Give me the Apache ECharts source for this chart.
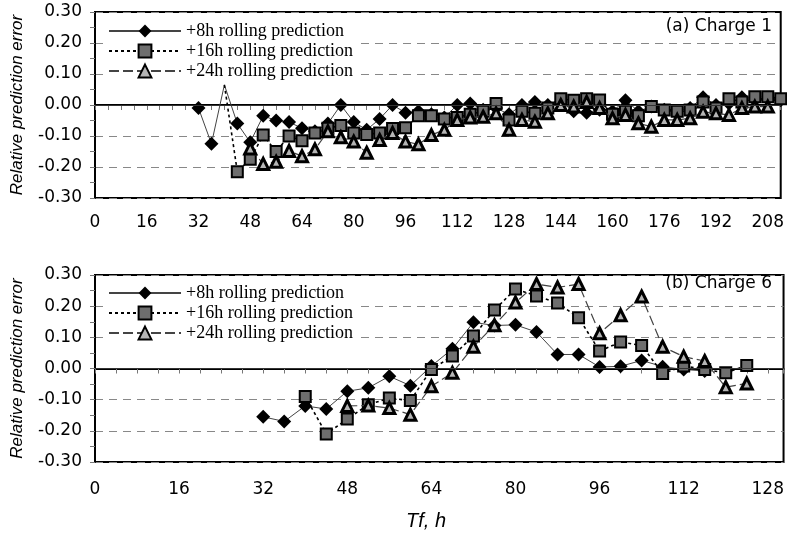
<!DOCTYPE html>
<html><head><meta charset="utf-8">
<script src="https://cdn.jsdelivr.net/npm/echarts@6/dist/echarts.min.js"></script>
<style>html,body{margin:0;padding:0;background:#fff}#c{width:787px;height:535px}</style>
</head><body><div id="c"></div>
<script>
const seriesNames = ['+8h rolling prediction', '+16h rolling prediction', '+24h rolling prediction'];
const panelLabels = ['(a) Charge 1', '(b) Charge 6'];
const xAxisTitle = 'Tf, h';
const yAxisTitle = 'Relative prediction error';
const topXMax = 212;
const bottomXMax = 131;
const xLabelStep = 16;
const yTicks = [-0.3, -0.2, -0.1, 0, 0.1, 0.2, 0.3];
const zeroLevel = 0;
const hiddenMarkerX = [40];

// Panel (a) Charge 1
const c1_8h_x = [32,36,40,44,48,52,56,60,64,68,72,76,80,84,88,92,96,100,104,108,112,116,120,124,128,132,136,140,144,148,152,156,160,164,168,172,176,180,184,188,192,196,200,204,208,212];
const c1_8h_y = [-0.01,-0.125,0.065,-0.06,-0.12,-0.035,-0.05,-0.055,-0.075,-0.085,-0.06,0.0,-0.055,-0.08,-0.045,0.0,-0.025,-0.02,-0.03,-0.04,0.0,0.005,-0.015,-0.01,-0.03,0.0,0.01,0.0,0.01,-0.02,-0.025,-0.015,-0.02,0.015,-0.02,-0.005,-0.015,-0.02,-0.01,0.025,0.0,0.005,0.025,0.015,0.02,0.015];
const c1_16h_x = [40,44,48,52,56,60,64,68,72,76,80,84,88,92,96,100,104,108,112,116,120,124,128,132,136,140,144,148,152,156,160,164,168,172,176,180,184,188,192,196,200,204,208,212];
const c1_16h_y = [0.065,-0.215,-0.175,-0.097,-0.15,-0.1,-0.115,-0.09,-0.075,-0.066,-0.09,-0.095,-0.09,-0.076,-0.073,-0.035,-0.035,-0.045,-0.04,-0.03,-0.02,0.005,-0.048,-0.02,-0.027,-0.01,0.02,0.015,0.02,0.016,-0.03,-0.02,-0.035,-0.005,-0.016,-0.02,-0.016,0.01,-0.01,0.02,0.01,0.027,0.027,0.02];
const c1_24h_x = [48,52,56,60,64,68,72,76,80,84,88,92,96,100,104,108,112,116,120,124,128,132,136,140,144,148,152,156,160,164,168,172,176,180,184,188,192,196,200,204,208];
const c1_24h_y = [-0.14,-0.19,-0.183,-0.148,-0.165,-0.143,-0.085,-0.104,-0.118,-0.154,-0.113,-0.09,-0.118,-0.127,-0.097,-0.08,-0.048,-0.04,-0.038,-0.027,-0.08,-0.048,-0.054,-0.027,0.0,-0.005,0.01,-0.01,-0.043,-0.032,-0.059,-0.07,-0.048,-0.048,-0.043,-0.022,-0.027,-0.032,-0.01,-0.005,-0.005];

// Panel (b) Charge 6
const c6_8h_x = [32,36,40,44,48,52,56,60,64,68,72,76,80,84,88,92,96,100,104,108,112,116];
const c6_8h_y = [-0.155,-0.17,-0.12,-0.13,-0.073,-0.062,-0.025,-0.055,0.008,0.063,0.148,0.138,0.14,0.117,0.045,0.045,0.005,0.007,0.026,0.006,-0.003,-0.008];
const c6_16h_x = [40,44,48,52,56,60,64,68,72,76,80,84,88,92,96,100,104,108,112,116,120,124];
const c6_16h_y = [-0.09,-0.21,-0.162,-0.116,-0.095,-0.103,-0.003,0.04,0.104,0.188,0.255,0.233,0.21,0.163,0.056,0.085,0.074,-0.016,0.008,-0.003,-0.014,0.01];
const c6_24h_x = [48,52,56,60,64,68,72,76,80,84,88,92,96,100,104,108,112,116,120,124];
const c6_24h_y = [-0.12,-0.119,-0.127,-0.148,-0.057,-0.014,0.07,0.139,0.212,0.271,0.26,0.271,0.113,0.171,0.231,0.07,0.038,0.024,-0.06,-0.048];

function pairs(xs, ys, hidden) {
  return xs.map((x, i) => (hidden && hidden.indexOf(x) >= 0) ? {value: [x, ys[i]], symbol: 'none'} : [x, ys[i]]);
}

const styles = [
  {symbol: 'diamond', symbolSize: 14, lineStyle: {color: '#444', width: 1, type: 'solid'}, itemStyle: {color: '#000'}},
  {symbol: 'rect', symbolSize: 11, lineStyle: {color: '#000', width: 1.6, type: [3, 3]}, itemStyle: {color: '#6e6e6e', borderColor: '#000', borderWidth: 2}},
  {symbol: 'triangle', symbolSize: 11, lineStyle: {color: '#444', width: 1.2, type: [10, 4]}, itemStyle: {color: '#b5b5b5', borderColor: '#000', borderWidth: 3}}
];

function mkSeries(idx, gridIdx, data, withZero) {
  const s = Object.assign({
    name: seriesNames[idx], type: 'line', xAxisIndex: gridIdx, yAxisIndex: gridIdx,
    data: data, animation: false, showAllSymbol: true, z: 2 + idx
  }, JSON.parse(JSON.stringify(styles[idx])));
  if (withZero) {
    s.markLine = {silent: true, symbol: 'none', label: {show: false}, animation: false,
      lineStyle: {color: '#333', width: 1, type: 'solid'}, data: [{yAxis: zeroLevel}]};
  }
  return s;
}

function xAxisCfg(gridIdx, max, margin) {
  return {
    type: 'value', gridIndex: gridIdx, min: 0, max: max, interval: 4,
    axisLine: {show: true, lineStyle: {color: '#000', width: 2}},
    axisTick: {show: true, length: 5, lineStyle: {color: '#777'}},
    splitLine: {show: false},
    axisLabel: {formatter: v => (v % xLabelStep === 0 ? String(v) : ''), fontFamily: 'DejaVu Sans', fontSize: 17, color: '#000', margin: margin}
  };
}
function yAxisCfg(gridIdx) {
  return {
    type: 'value', gridIndex: gridIdx, min: yTicks[0], max: yTicks[yTicks.length - 1], interval: 0.1,
    axisLine: {show: true, lineStyle: {color: '#000', width: 2}},
    axisTick: {show: true, length: 5, lineStyle: {color: '#777'}},
    minorTick: {show: true, splitNumber: 2, length: 5, lineStyle: {color: '#777'}},
    splitLine: {show: true, lineStyle: {color: '#888', width: 1, type: [8, 6]}},
    axisLabel: {formatter: v => (Math.abs(v) < 1e-9 ? 0 : v).toFixed(2), fontFamily: 'DejaVu Sans', fontSize: 17, color: '#000', margin: 13},
    name: yAxisTitle, nameLocation: 'middle', nameGap: 69,
    nameTextStyle: {fontStyle: 'italic', fontFamily: 'Liberation Sans', fontSize: 17, color: '#000'}
  };
}
function legendCfg(top) {
  return {
    orient: 'vertical', left: 104, top: top, itemWidth: 72, itemHeight: 16, itemGap: 2,
    padding: [2, 6, 2, 4], backgroundColor: '#fff',
    textStyle: {fontFamily: 'Liberation Serif', fontSize: 18, color: '#000', lineHeight: 18},
    data: seriesNames, selectedMode: false
  };
}

const chart = echarts.init(document.getElementById('c'), null, {renderer: 'canvas'});
chart.setOption({
  backgroundColor: '#fff',
  animation: false,
  title: [
    {text: panelLabels[0], right: 15, top: 18, padding: 0, textStyle: {fontFamily: 'DejaVu Sans', fontSize: 17, fontWeight: 'normal', color: '#000'}},
    {text: panelLabels[1], right: 15, top: 275, padding: 0, textStyle: {fontFamily: 'DejaVu Sans', fontSize: 17, fontWeight: 'normal', color: '#000'}}
  ],
  legend: [legendCfg(20), legendCfg(282)],
  grid: [
    {left: 95, top: 12, width: 691, height: 186, show: true, borderColor: '#000', borderWidth: 2},
    {left: 95, top: 275, width: 691, height: 187, show: true, borderColor: '#000', borderWidth: 2}
  ],
  xAxis: [xAxisCfg(0, topXMax, 16), xAxisCfg(1, bottomXMax, 19)],
  yAxis: [yAxisCfg(0), yAxisCfg(1)],
  graphic: [{type: 'text', x: 426, y: 521, style: {text: xAxisTitle, textAlign: 'center', textVerticalAlign: 'middle', font: 'italic 20px "Liberation Sans"', fill: '#000'}}],
  series: [
    mkSeries(0, 0, pairs(c1_8h_x, c1_8h_y, hiddenMarkerX), true),
    mkSeries(1, 0, pairs(c1_16h_x, c1_16h_y, hiddenMarkerX), false),
    mkSeries(2, 0, pairs(c1_24h_x, c1_24h_y, null), false),
    mkSeries(0, 1, pairs(c6_8h_x, c6_8h_y, null), true),
    mkSeries(1, 1, pairs(c6_16h_x, c6_16h_y, null), false),
    mkSeries(2, 1, pairs(c6_24h_x, c6_24h_y, null), false)
  ]
});
</script>
</body></html>
